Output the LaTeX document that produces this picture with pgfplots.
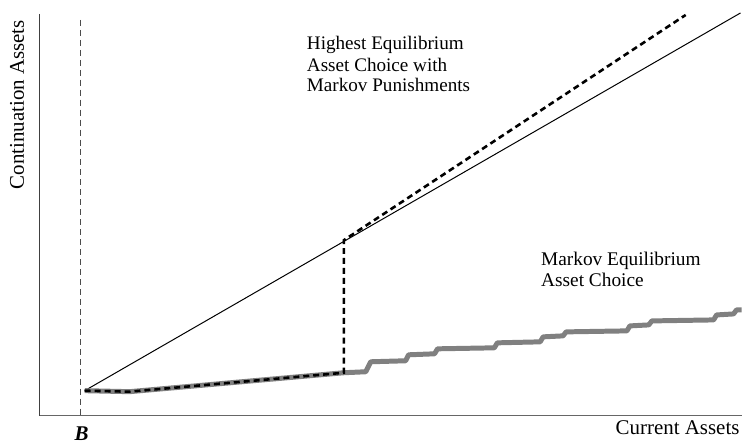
\documentclass[border=0pt]{standalone}
\usepackage{pgfplots}
\pgfplotsset{compat=1.18}
\usepackage{fontspec}
\setmainfont{Liberation Serif}
\begin{document}
\begin{tikzpicture}
\begin{axis}[
  scale only axis,
  width=352pt, height=201.5pt,
  xmin=40, xmax=744, ymin=32, ymax=435,
  axis lines=none,
  clip=false,
]
\path (axis cs:0,0) rectangle (axis cs:744,449);
% spines
\addplot[color=black!75, line width=0.6pt] coordinates {(40,435) (40,32)};
\addplot[color=black!60, line width=0.9pt] coordinates {(40,32) (744,32)};
% vertical dashed at B
\addplot[color=black!70, line width=0.5pt, dash pattern=on 3pt off 2pt] coordinates {(81,429) (81,32)};
% 45 degree line
\addplot[black, line width=0.5pt] coordinates {(85,57) (743,436)};
% Markov equilibrium (gray step)
\addplot[color=black!50, line width=2.5pt, line join=round] coordinates {
(85,57) (130,56) (345,75) (367,76) (372,86) (407,87) (410,93) (436,94) (439,99)
(496,100) (499,105) (542,106) (545,111) (565,112) (568,116) (629,117) (632,122)
(651,123) (654,127) (716,128) (719,133) (736,134) (739,138) (744,138)};
% Highest equilibrium (dashed)
\addplot[black, line width=1.3pt, dash pattern=on 3pt off 2pt] coordinates {
(85,57) (130,56) (345,75) (345,208) (688,434)};
\begin{scope}[every node/.style={inner sep=0pt, outer sep=0pt}]
\node[anchor=base west, font=\fontsize{9.6}{10.5}\selectfont] at (axis cs:308,399) {Highest Equilibrium};
\node[anchor=base west, font=\fontsize{9.6}{10.5}\selectfont] at (axis cs:308,377.5) {Asset Choice with};
\node[anchor=base west, font=\fontsize{9.6}{10.5}\selectfont] at (axis cs:308,357) {Markov Punishments};
\node[anchor=base west, font=\fontsize{9.7}{10.5}\selectfont] at (axis cs:543,182.5) {Markov Equilibrium};
\node[anchor=base west, font=\fontsize{9.7}{10.5}\selectfont] at (axis cs:543,162) {Asset Choice};
\node[rotate=90, font=\fontsize{10.5}{12}\selectfont] at (axis cs:17,344) {Continuation Assets};
\node[anchor=base east, font=\fontsize{10.5}{12}\selectfont] at (axis cs:742,13) {Current Assets};
\node[anchor=base, font=\fontsize{10.5}{12}\selectfont\bfseries\itshape] at (axis cs:82,7) {B};
\end{scope}
\end{axis}
\end{tikzpicture}
\end{document}
